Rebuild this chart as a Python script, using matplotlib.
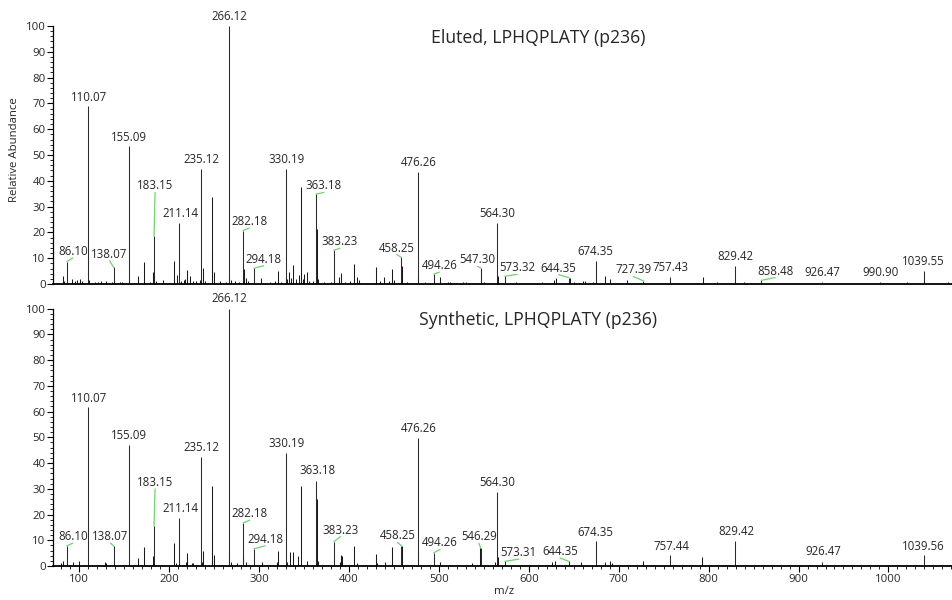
import numpy as np
import matplotlib
matplotlib.use('Agg')
from matplotlib import pyplot as plt
from matplotlib.ticker import MultipleLocator

plt.rcParams['font.family'] = ['Open Sans', 'DejaVu Sans']

# ---- Eluted (top) ----
top_lab_mz = [86.10, 110.07, 138.07, 155.09, 183.15, 211.14, 235.12, 266.12, 282.18, 294.18,
              330.19, 363.18, 383.23, 458.25, 476.26, 494.26, 547.30, 564.30, 573.32, 644.35,
              674.35, 727.39, 757.43, 829.42, 858.48, 926.47, 990.90, 1039.55]
top_lab_int = [8.7, 69.0, 6.5, 53.5, 18.6, 23.5, 44.5, 100.0, 20.7, 6.1,
               44.5, 34.8, 13.1, 10.3, 43.5, 3.8, 6.1, 23.8, 3.0, 2.5,
               9.0, 1.2, 2.8, 7.1, 1.4, 0.9, 0.9, 5.2]
top_lab_text = ['86.10', '110.07', '138.07', '155.09', '183.15', '211.14', '235.12', '266.12',
                '282.18', '294.18', '330.19', '363.18', '383.23', '458.25', '476.26', '494.26',
                '547.30', '564.30', '573.32', '644.35', '674.35', '727.39', '757.43', '829.42',
                '858.48', '926.47', '990.90', '1039.55']
top_other_mz = [81.5, 83.0, 92.2, 95.5, 98.0, 100.5, 103.0, 111.1, 117.0, 121.0, 124.5, 129.5,
                136.0, 145.0, 148.0, 165.7, 172.0, 178.5, 182.2, 185.0, 192.8, 205.7, 208.3,
                213.0, 216.5, 218.0, 220.1, 223.1, 226.0, 230.0, 233.8, 237.2, 240.0, 247.6,
                248.0, 250.2, 257.0, 263.0, 267.0, 268.5, 273.0, 278.0, 282.8, 285.0, 288.0,
                302.5, 312.0, 318.0, 321.0, 324.0, 331.4, 333.5, 336.0, 338.0, 341.5, 344.0,
                346.6, 348.5, 350.3, 352.9, 356.0, 360.5, 364.1, 366.0, 372.0, 380.0, 389.2,
                391.4, 395.0, 401.5, 405.9, 408.5, 411.0, 430.0, 434.0, 439.3, 444.0, 447.5,
                449.5, 459.2, 464.0, 477.0, 484.0, 501.2, 510.0, 512.0, 527.0, 530.0, 546.3,
                550.0, 565.3, 586.0, 615.0, 628.0, 630.3, 646.0, 650.0, 660.5, 663.0, 671.0,
                684.8, 690.3, 708.9, 793.4, 809.0, 839.4, 1020.3, 1066.6]
top_other_int = [3.1, 1.2, 1.9, 1.2, 1.5, 2.0, 1.0, 1.5, 0.8, 0.9, 1.0, 1.2,
                 0.8, 0.8, 0.9, 3.1, 8.4, 0.8, 4.8, 1.0, 1.7, 8.9, 3.5,
                 1.2, 1.5, 2.0, 5.4, 3.0, 1.2, 1.0, 1.5, 6.1, 1.0, 33.6,
                 11.5, 4.5, 1.0, 0.8, 2.8, 1.5, 1.0, 0.8, 6.0, 2.5, 1.0,
                 2.2, 0.8, 1.0, 5.2, 0.8, 2.0, 4.5, 2.5, 7.5, 2.0, 3.5,
                 37.5, 2.0, 3.9, 4.5, 1.0, 1.2, 21.3, 2.0, 0.8, 0.8, 2.8,
                 4.3, 0.8, 1.2, 7.6, 2.7, 1.5, 6.5, 1.0, 2.6, 1.0, 5.7,
                 1.5, 7.0, 0.8, 3.8, 0.8, 2.7, 0.9, 0.7, 0.7, 0.8, 5.7,
                 0.8, 3.0, 0.7, 0.7, 1.5, 2.3, 2.5, 0.9, 1.0, 1.0, 0.7,
                 3.1, 2.0, 1.5, 2.8, 0.8, 0.8, 0.9, 0.9]

# ---- Synthetic (bottom) ----
bot_lab_mz = [86.10, 110.07, 138.07, 155.09, 183.15, 211.14, 235.12, 266.12, 282.18, 294.18,
              330.19, 363.18, 383.23, 458.25, 476.26, 494.26, 546.29, 564.30, 573.31, 644.35,
              674.35, 757.44, 829.42, 926.47, 1039.56]
bot_lab_int = [7.8, 61.7, 7.8, 47.0, 15.5, 18.5, 42.5, 100.0, 16.7, 6.7,
               43.8, 33.2, 9.5, 7.9, 49.6, 5.1, 7.1, 28.6, 1.8, 1.8,
               9.7, 4.2, 9.8, 1.6, 4.1]
bot_lab_text = ['86.10', '110.07', '138.07', '155.09', '183.15', '211.14', '235.12', '266.12',
                '282.18', '294.18', '330.19', '363.18', '383.23', '458.25', '476.26', '494.26',
                '546.29', '564.30', '573.31', '644.35', '674.35', '757.44', '829.42', '926.47',
                '1039.56']
bot_other_mz = [79.6, 82.2, 92.6, 100.0, 128.3, 129.5, 165.7, 172.0, 182.2, 205.7, 207.5,
                218.5, 220.1, 225.0, 227.0, 236.0, 237.2, 247.6, 248.0, 249.8, 266.8, 268.5,
                275.0, 282.6, 285.0, 302.9, 320.3, 321.4, 331.0, 334.4, 338.1, 343.6, 346.6,
                352.9, 364.1, 365.5, 389.5, 391.1, 392.0, 405.9, 409.0, 430.0, 431.0, 440.0,
                447.5, 459.2, 477.0, 501.2, 537.0, 545.5, 562.5, 565.3, 626.1, 629.0, 658.1,
                684.8, 690.3, 692.0, 727.4, 793.0]
bot_other_int = [1.3, 1.9, 1.6, 1.9, 1.6, 1.2, 3.2, 7.3, 3.8, 8.8, 1.2,
                 1.5, 5.2, 1.2, 1.3, 1.5, 5.7, 31.1, 12.5, 4.3, 5.0, 1.5,
                 1.2, 4.7, 1.5, 1.6, 1.5, 6.0, 1.5, 5.5, 5.5, 3.8, 31.1,
                 2.1, 25.9, 2.0, 1.5, 4.3, 3.8, 7.8, 1.3, 4.5, 1.2, 1.6,
                 7.5, 7.8, 5.5, 1.6, 1.3, 6.8, 1.5, 3.4, 1.6, 2.0, 1.6,
                 1.6, 1.8, 1.3, 2.1, 3.4]

# label placement: (dx, dy) in pixels from the peak top, and which labels get a leader
top_offsets = [(6, 10), (1, 8.3), (-4, 13), (0.5, 8.7), (1, 50), (1, 10), (1, 9.3), (1, 9.3),
               (6, 9), (10, 9), (0.5, 9.3), (8, 8.3), (6, 8.4), (-4.7, 9.4), (0.7, 9.4),
               (5.5, 8.6), (-4, 8.3), (0.6, 9.4), (12.5, 8.4), (-10, 9.3), (0, 9.3), (-10, 11),
               (0.5, 9), (0, 9), (14, 9.3), (0, 9.4), (0, 9.4), (-1, 9)]
top_leader = ['86.10', '138.07', '183.15', '282.18', '294.18', '363.18', '383.23', '458.25',
              '494.26', '547.30', '573.32', '644.35', '727.39', '858.48']
bot_offsets = [(6, 9.3), (1, 9), (-3, 9.3), (0.5, 9.3), (1, 43.7), (1, 9.4), (1, 9), (1, 10),
               (6.6, 9.3), (11.3, 9.4), (0.5, 9.3), (1.7, 9.7), (6.6, 11.3), (-4, 9.7),
               (0.7, 9.6), (6.3, 10), (-1.7, 11), (0.6, 10), (14, 8.7), (-8.7, 10), (0, 9),
               (1.4, 9), (1, 9.3), (0.7, 10), (-1, 9.3)]
bot_leader = ['86.10', '138.07', '183.15', '282.18', '294.18', '383.23', '458.25', '494.26',
              '546.29', '573.31', '644.35']

GREEN = '#6fd36f'
TXT = '#262626'
px2pt = 72.0 / 100


def draw_panel(ax, lab_mz, lab_int, lab_text, other_mz, other_int, offsets, leaders, title, xlabels):
    ax.vlines(other_mz, 0, other_int, color='#1a1a1a', lw=0.75)
    ax.vlines(lab_mz, 0, lab_int, color='#2a2a2a', lw=0.75)
    for mz, h, t, (dx, dy) in zip(lab_mz, lab_int, lab_text, offsets):
        kw = {}
        if t in leaders:
            kw['arrowprops'] = dict(arrowstyle='-', color=GREEN, lw=0.9, shrinkA=0, shrinkB=0,
                                    relpos=(0.5, 0.0), patchA=None)
        ax.annotate(t, xy=(mz, h), xytext=(dx * px2pt, dy * px2pt), textcoords='offset points',
                    ha='center', va='center', fontsize=8.3, color=TXT, annotation_clip=False, **kw)
    ax.set_xlim(71.1, 1070.7)
    ax.set_ylim(0, 100)
    ax.spines['top'].set_visible(False)
    ax.spines['right'].set_visible(False)
    ax.spines['bottom'].set_linewidth(1.3)
    ax.spines['left'].set_linewidth(0.9)
    ax.yaxis.set_major_locator(MultipleLocator(10))
    ax.yaxis.set_minor_locator(MultipleLocator(2))
    ax.tick_params(axis='y', which='major', length=4, width=0.8, pad=1.5, labelsize=8.2, labelcolor=TXT)
    ax.tick_params(axis='y', which='minor', length=2.5, width=0.6)
    if xlabels:
        ax.xaxis.set_major_locator(MultipleLocator(100))
        ax.xaxis.set_minor_locator(MultipleLocator(10))
        ax.tick_params(axis='x', which='major', length=4, width=0.8, pad=2, labelsize=8.2, labelcolor=TXT)
        ax.tick_params(axis='x', which='minor', length=2.5, width=0.6)
        ax.set_xticks([100, 200, 300, 400, 500, 600, 700, 800, 900, 1000])
    else:
        ax.set_xticks([])
    ax.text(0.539, 0.955, title, transform=ax.transAxes, ha='center', va='center',
            fontsize=12.7, color=TXT)


fig = plt.figure(figsize=(9.52, 6), dpi=100)
ax1 = fig.add_axes([0.056, 0.5267, 0.944, 0.43])
ax2 = fig.add_axes([0.056, 0.0567, 0.944, 0.4288])

draw_panel(ax1, top_lab_mz, top_lab_int, top_lab_text, top_other_mz, top_other_int,
           top_offsets, top_leader, 'Eluted, LPHQPLATY (p236)', False)
draw_panel(ax2, bot_lab_mz, bot_lab_int, bot_lab_text, bot_other_mz, bot_other_int,
           bot_offsets, bot_leader, 'Synthetic, LPHQPLATY (p236)', True)

fig.text(15 / 952, 1 - 150 / 600, 'Relative Abundance', rotation=90, ha='center', va='center',
         fontsize=8.2, color=TXT)
fig.text(504 / 952, 1 - 592 / 600, 'm/z', ha='center', va='center', fontsize=8.2, color=TXT)

fig.savefig('out.png', dpi=100)
